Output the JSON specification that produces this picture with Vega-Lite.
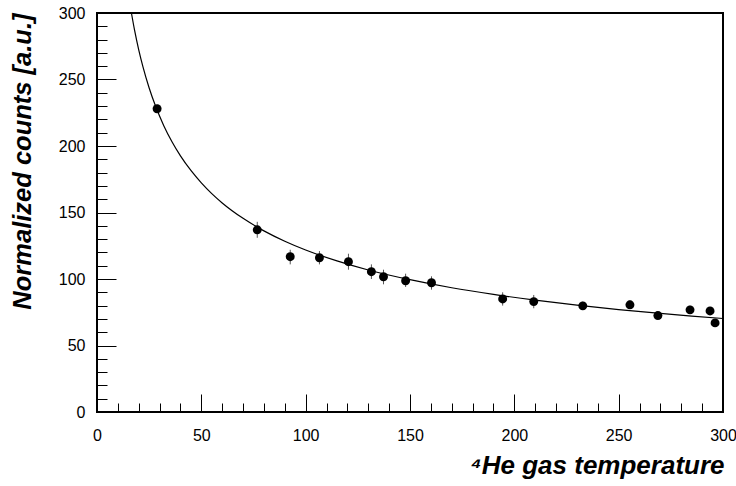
{
  "$schema": "https://vega.github.io/schema/vega-lite/v6.json",
  "width": 626,
  "height": 399,
  "autosize": {"type": "none"},
  "padding": {"left": 97, "top": 13, "right": 13, "bottom": 74},
  "background": "white",
  "config": {
    "view": {"stroke": "black", "strokeWidth": 2},
    "font": "Liberation Sans",
    "axis": {"grid": false, "domain": false, "labelFont": "Liberation Sans", "labelFontSize": 16, "labelColor": "black", "tickColor": "black", "tickWidth": 1, "labelOverlap": false}
  },
  "datasets": {
    "points": [
      {"t": 28.8, "c": 228, "lo": 225, "hi": 231},
      {"t": 76.8, "c": 137, "lo": 131, "hi": 143},
      {"t": 92.6, "c": 116.8, "lo": 111, "hi": 122},
      {"t": 106.6, "c": 116, "lo": 111, "hi": 121},
      {"t": 120.5, "c": 113, "lo": 107, "hi": 119},
      {"t": 131.5, "c": 105.5, "lo": 100, "hi": 111},
      {"t": 137.3, "c": 101.7, "lo": 96, "hi": 107},
      {"t": 147.9, "c": 98.7, "lo": 94, "hi": 104},
      {"t": 160.3, "c": 97.2, "lo": 92, "hi": 102},
      {"t": 194.4, "c": 85, "lo": 80, "hi": 90},
      {"t": 209.3, "c": 83, "lo": 78, "hi": 88},
      {"t": 232.8, "c": 79.8, "lo": 77, "hi": 83},
      {"t": 255.4, "c": 80.6, "lo": 78, "hi": 84},
      {"t": 268.8, "c": 72.5, "lo": 70, "hi": 75},
      {"t": 284.2, "c": 76.8, "lo": 74, "hi": 80},
      {"t": 293.8, "c": 76, "lo": 73, "hi": 79},
      {"t": 296.2, "c": 67, "lo": 64, "hi": 70}
    ],
    "fit": [
      {"t": 16.5, "c": 300}, {"t": 18, "c": 287.1}, {"t": 20, "c": 272.3}, {"t": 22, "c": 259.7},
      {"t": 25, "c": 243.6}, {"t": 28, "c": 230.2}, {"t": 32, "c": 215.3}, {"t": 36, "c": 203},
      {"t": 40, "c": 192.6}, {"t": 45, "c": 181.6}, {"t": 50, "c": 172.3}, {"t": 55, "c": 164.2},
      {"t": 60, "c": 157.2}, {"t": 70, "c": 145.6}, {"t": 80, "c": 136.2}, {"t": 90, "c": 128.4},
      {"t": 100, "c": 121.8}, {"t": 115, "c": 113.6}, {"t": 130, "c": 106.8}, {"t": 150, "c": 99.5},
      {"t": 170, "c": 93.4}, {"t": 190, "c": 88.4}, {"t": 210, "c": 84.1}, {"t": 230, "c": 80.3},
      {"t": 250, "c": 77.0}, {"t": 270, "c": 74.1}, {"t": 285, "c": 72.1}, {"t": 300, "c": 70.3}
    ]
  },
  "layer": [
    {
      "data": {"name": "fit"},
      "mark": {"type": "line", "color": "black", "strokeWidth": 1.2, "interpolate": "monotone"},
      "encoding": {
        "x": {
          "field": "t", "type": "quantitative",
          "scale": {"domain": [0, 300], "nice": false},
          "axis": {
            "values": [0,10,20,30,40,50,60,70,80,90,100,110,120,130,140,150,160,170,180,190,200,210,220,230,240,250,260,270,280,290,300],
            "tickCount": 31,
            "labelExpr": "datum.value % 50 === 0 ? datum.label : ''",
            "tickSize": {"condition": {"test": "datum.value % 50 === 0", "value": -18}, "value": -9},
            "labelPadding": 33,
            "labelFlush": false,
            "title": "⁴He gas temperature",
            "titleFont": "Liberation Sans",
            "titleFontSize": 26,
            "titleFontStyle": "italic",
            "titleFontWeight": "bold",
            "titleAlign": "right",
            "titleBaseline": "alphabetic",
            "titleX": 627,
            "titleY": 61
          }
        },
        "y": {
          "field": "c", "type": "quantitative",
          "scale": {"domain": [0, 300], "nice": false},
          "axis": {
            "values": [0,10,20,30,40,50,60,70,80,90,100,110,120,130,140,150,160,170,180,190,200,210,220,230,240,250,260,270,280,290,300],
            "tickCount": 31,
            "labelExpr": "datum.value % 50 === 0 ? datum.label : ''",
            "tickSize": {"condition": {"test": "datum.value % 50 === 0", "value": -19}, "value": -10},
            "labelPadding": 31,
            "labelFlush": false,
            "title": "Normalized counts [a.u.]",
            "titleFont": "Liberation Sans",
            "titleFontSize": 25.5,
            "titleFontStyle": "italic",
            "titleFontWeight": "bold",
            "titleAlign": "right",
            "titleBaseline": "alphabetic",
            "titleAngle": -90,
            "titleX": -67,
            "titleY": 0
          }
        }
      }
    },
    {
      "data": {"name": "points"},
      "mark": {"type": "rule", "color": "#555555", "strokeWidth": 1},
      "encoding": {
        "x": {"field": "t", "type": "quantitative"},
        "y": {"field": "lo", "type": "quantitative"},
        "y2": {"field": "hi"}
      }
    },
    {
      "data": {"name": "points"},
      "mark": {"type": "circle", "color": "black", "opacity": 1, "size": 80},
      "encoding": {
        "x": {"field": "t", "type": "quantitative"},
        "y": {"field": "c", "type": "quantitative"}
      }
    }
  ]
}
